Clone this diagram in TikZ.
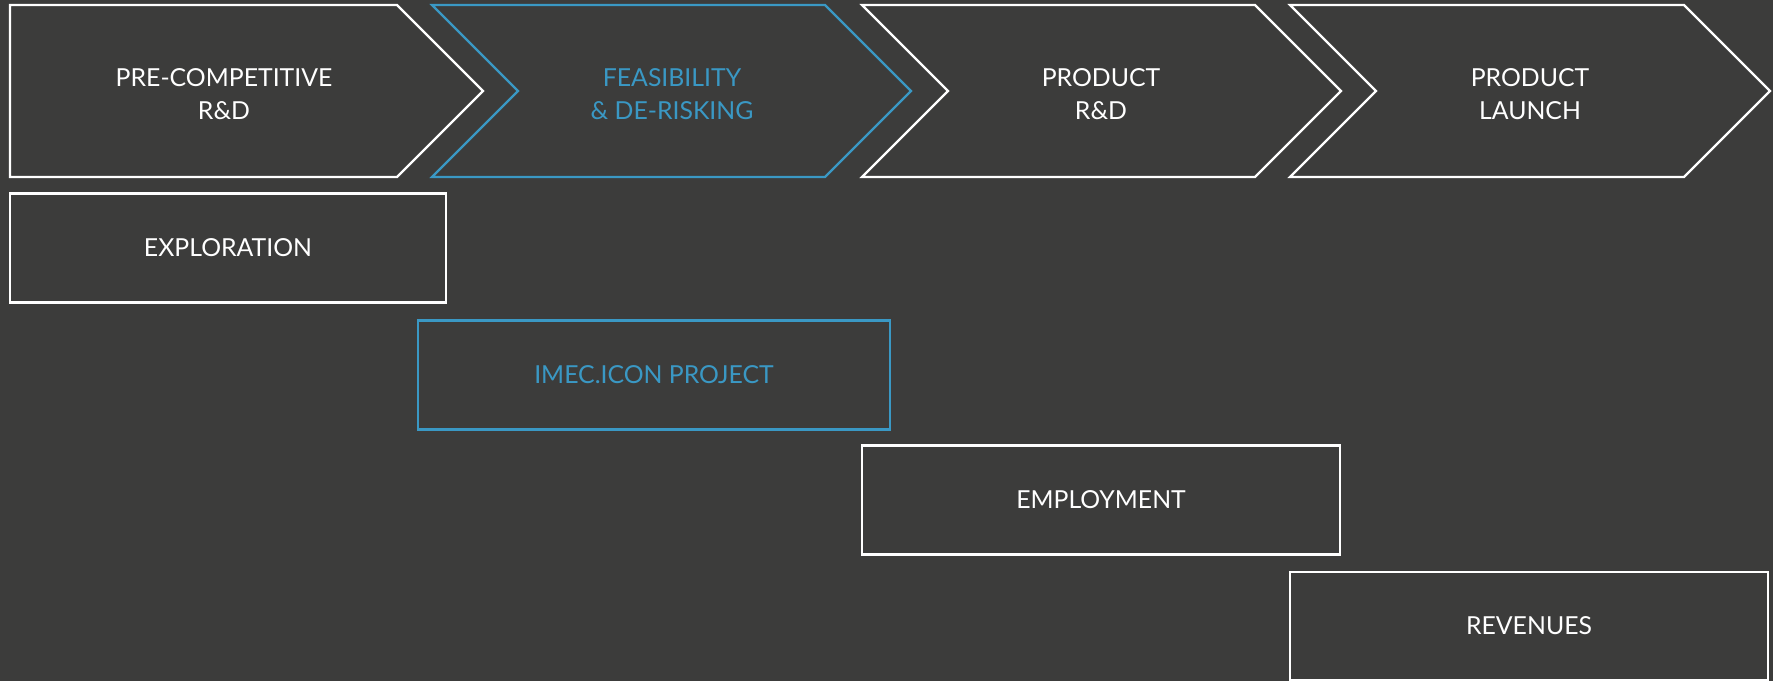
\documentclass[tikz,border=0pt]{standalone}
\usepackage{fontspec}
\setmainfont{Lato}
\usepackage{tikz}
\usetikzlibrary{calc}
\definecolor{bgcol}{RGB}{60,60,59}
\definecolor{imecblue}{RGB}{58,152,196}
\tikzset{
  phase/.style={draw=white, line width=2.2pt, line join=miter},
  phasetxt/.style={text=white, align=center, font=\fontsize{24.8}{33}\selectfont},
  stagebox/.style={draw=white, line width=2.2pt, text=white, font=\fontsize{24.8}{33}\selectfont, inner sep=0pt}
}

\begin{document}
\begin{tikzpicture}[x=1pt, y=-1pt]
        \fill[bgcol] (0,0) rectangle (1773,681);
        \useasboundingbox (0,0) rectangle (1773,681);

        % phases
        \draw[phase] (10,5) -- (397,5) -- (483,91) -- (397,177) -- (10,177) -- cycle;
        \draw[phase, draw=imecblue] (432,5) -- (825,5) -- (911,91) -- (825,177) -- (432,177) -- (518,91) -- cycle;
        \draw[phase] (862,5) -- (1255,5) -- (1341,91) -- (1255,177) -- (862,177) -- (948,91) -- cycle;
        \draw[phase] (1290,5) -- (1684,5) -- (1770,91) -- (1684,177) -- (1290,177) -- (1376,91) -- cycle;

        \node[phasetxt] (precomp) at (224,94) {PRE-COMPETITIVE\\R\&D};
        \node[phasetxt, text=imecblue] (feasib) at (672,94) {FEASIBILITY\\\& DE-RISKING};
        \node[phasetxt] (prodrnd) at (1101,94) {PRODUCT\\R\&D};
        \node[phasetxt] (prodlaunch) at (1530,94) {PRODUCT\\LAUNCH};

        % stages
        \node[stagebox, minimum width=436pt, minimum height=109pt] (explor) at (228,248) {EXPLORATION};
        \node[stagebox, draw=imecblue, text=imecblue, minimum width=472pt, minimum height=109pt] (icon) at (654,375) {IMEC.ICON PROJECT};
        \node[stagebox, minimum width=478pt, minimum height=109pt] (employ) at (1101,500) {EMPLOYMENT};
        \node[stagebox, minimum width=478pt, minimum height=108pt] (revenue) at (1529,626) {REVENUES};
\end{tikzpicture}
\end{document}
